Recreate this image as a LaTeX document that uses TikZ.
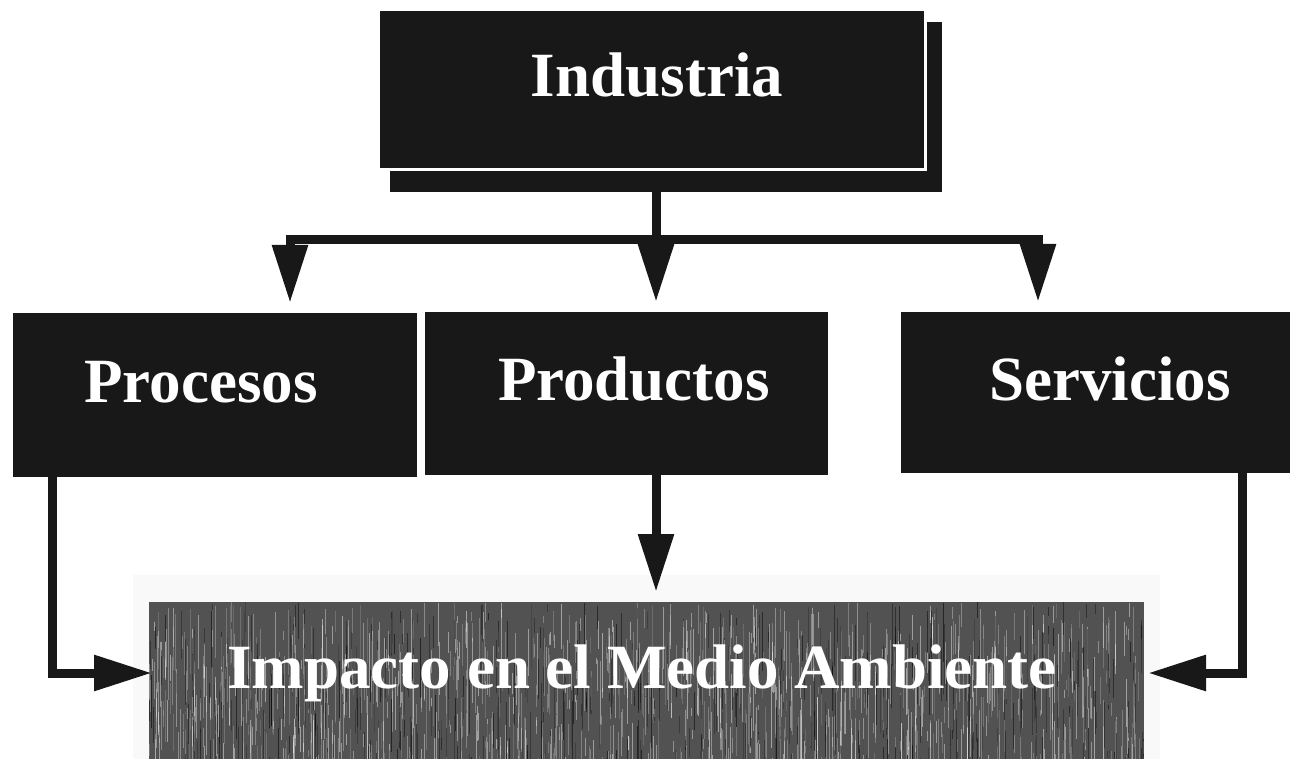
\documentclass[tikz,border=0pt]{standalone}
\usepackage{fontspec}
\setmainfont{Liberation Serif}
\usetikzlibrary{arrows.meta,calc}
\definecolor{boxblack}{RGB}{24,24,24}
\definecolor{impgray}{RGB}{82,82,82}
\definecolor{halo}{RGB}{249,249,249}
\begin{document}
\begin{tikzpicture}[x=1pt,y=-1pt,
  box/.style={fill=boxblack, draw=none, inner sep=0pt, outer sep=0pt, anchor=north west},
  lbl/.style={text=white, font=\bfseries\fontsize{63}{70}\selectfont, inner sep=0pt, anchor=base},
  conn/.style={line width=9pt, draw=boxblack},
  arr/.style={conn, -{Triangle[length=58pt,width=34pt]}}]
\useasboundingbox (0,0) rectangle (1290,759);
\fill[white] (0,0) rectangle (1290,759);

% Industria with shadow
\node[box, minimum width=552pt, minimum height=170pt] (indsh) at (390,22) {};
\node[box, draw=white, line width=3pt, minimum width=547pt, minimum height=160pt] (ind) at (378,10) {};

% middle row
\node[box, minimum width=404pt, minimum height=164pt] (proc) at (13,313) {};
\node[box, minimum width=403pt, minimum height=163pt] (prod) at (425,312) {};
\node[box, minimum width=392pt, minimum height=161pt] (serv) at (901,312) {};

% impact box
\node[box, fill=halo, minimum width=1027pt, minimum height=190pt] (imphalo) at (133,575) {};
\node[box, fill=impgray, minimum width=995pt, minimum height=160pt] (imp) at (149,602) {};
\begin{scope}
  \clip (imp.north west) rectangle (imp.south east);
  \pgfmathsetseed{42}
  \foreach \i in {1,...,1100}{
    \pgfmathsetmacro{\xx}{149+995*rnd}
    \pgfmathsetmacro{\yy}{602+160*rnd}
    \pgfmathsetmacro{\ll}{6+60*rnd}
    \pgfmathsetmacro{\oo}{0.12+0.35*rnd}
    \draw[white, opacity=\oo, line width=1pt] (\xx,\yy) -- ++(0,\ll);
  }
  \foreach \i in {1,...,500}{
    \pgfmathsetmacro{\xx}{149+995*rnd}
    \pgfmathsetmacro{\yy}{602+160*rnd}
    \pgfmathsetmacro{\ll}{6+60*rnd}
    \pgfmathsetmacro{\oo}{0.15+0.4*rnd}
    \draw[black, opacity=\oo, line width=1pt] (\xx,\yy) -- ++(0,\ll);
  }
\end{scope}

% labels
\node[lbl] (tind) at (657,97) {Industria};
\node[lbl] (tproc) at (201,402) {Procesos};
\node[lbl] (tprod) at (634,400) {Productos};
\node[lbl] (tserv) at (1110,400) {Servicios};
\node[lbl] (timp) at (642,688) {Impacto en el Medio Ambiente};

% connectors
\coordinate (hub) at (656,240);
\coordinate (jl) at (290,240);
\coordinate (jr) at (1038,240);
\coordinate (lx) at (52,0);
\coordinate (rx) at (1242,0);
\coordinate (ly) at (0,673);

\draw[conn] (indsh.south -| hub) -- (hub);
\draw[conn] ([xshift=-4.5pt]jl) -- ([xshift=4.5pt]jr);
\draw[arr] (jl) -- ([yshift=10pt]jl |- proc.north);
\draw[arr] (hub) -- ([yshift=10pt]hub |- prod.north);
\draw[arr] (jr) -- ([yshift=10pt]jr |- serv.north);

\draw[arr] (proc.south -| lx) |- ([xshift=3pt]imp.west |- ly);
\draw[arr] (prod.south -| hub) -- ([yshift=10pt]hub |- imp.north);
\draw[arr] (serv.south -| rx) |- ([xshift=4pt]imp.east |- ly);
\end{tikzpicture}
\end{document}
